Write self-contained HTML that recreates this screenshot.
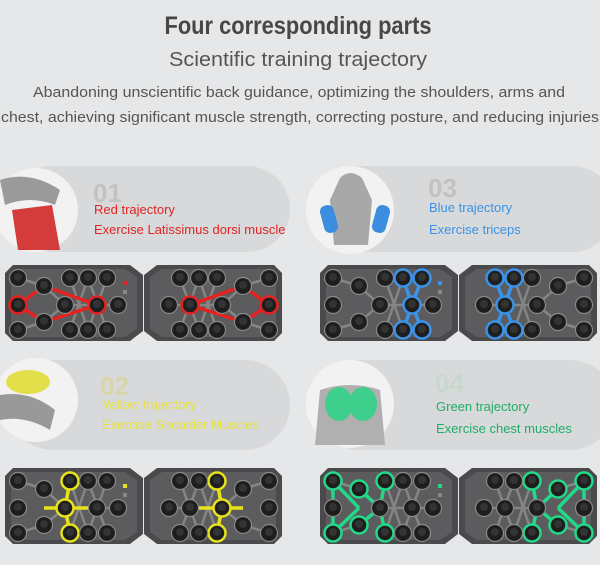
<!DOCTYPE html>
<html><head><meta charset="utf-8"><style>
html,body{margin:0;padding:0;background:#e6e7e8;}
svg{display:block;}
text{font-family:"Liberation Sans",sans-serif;}
</style></head><body>
<svg id="s" width="600" height="565" viewBox="0 0 600 565" xmlns="http://www.w3.org/2000/svg">
<rect width="600" height="565" fill="#e6e7e8"/>
<text x="298" y="34" text-anchor="middle" font-size="25" font-weight="bold" fill="#474747" textLength="267" lengthAdjust="spacingAndGlyphs">Four corresponding parts</text>
<text x="298" y="66" text-anchor="middle" font-size="20" fill="#555" textLength="258" lengthAdjust="spacingAndGlyphs">Scientific training trajectory</text>
<text x="299" y="97" text-anchor="middle" font-size="15" fill="#555" textLength="532" lengthAdjust="spacingAndGlyphs">Abandoning unscientific back guidance, optimizing the shoulders, arms and</text>
<text x="300" y="122" text-anchor="middle" font-size="15" fill="#555" textLength="598" lengthAdjust="spacingAndGlyphs">chest, achieving significant muscle strength, correcting posture, and reducing injuries</text>

<rect x="8" y="166" width="282" height="86" rx="43" fill="#d8d9da"/>
<rect x="315" y="166" width="300" height="86" rx="43" fill="#d8d9da"/>
<rect x="8" y="360" width="282" height="90" rx="45" fill="#d8d9da"/>
<rect x="315" y="360" width="300" height="90" rx="45" fill="#d8d9da"/>

<circle cx="36" cy="210" r="42" fill="#f2f2f2"/>
<path d="M12 210 L52 205 L60 250 L18 250 Z" fill="#d43c3c"/>
<path d="M0 180 Q30 170 60 190 L55 205 Q30 195 5 205 Z" fill="#9a9a9a"/>
<circle cx="350" cy="210" r="44" fill="#f2f2f2"/>
<path d="M340 178 Q350 168 362 178 L372 200 L368 245 L334 245 L330 200 Z" fill="#a8a8a8"/>
<rect x="322" y="205" width="14" height="28" rx="6" fill="#3b8de0" transform="rotate(-15 329 219)"/>
<rect x="374" y="205" width="14" height="28" rx="6" fill="#3b8de0" transform="rotate(15 381 219)"/>
<circle cx="36" cy="400" r="42" fill="#f2f2f2"/>
<ellipse cx="28" cy="382" rx="22" ry="12" fill="#e3df4b"/>
<path d="M0 395 Q30 390 55 410 L50 430 Q25 415 0 420 Z" fill="#999"/>
<circle cx="350" cy="404" r="44" fill="#f2f2f2"/>
<path d="M320 390 Q350 380 380 390 L385 445 L315 445 Z" fill="#b0b0b0"/>
<ellipse cx="339" cy="404" rx="14" ry="17" fill="#3fcf8c"/>
<ellipse cx="363" cy="404" rx="14" ry="17" fill="#3fcf8c"/>

<text x="93" y="202" font-size="26" font-weight="bold" fill="#c2c2c2">01</text>
<text x="94" y="214" font-size="13" fill="#e02424">Red trajectory</text>
<text x="94" y="234" font-size="13" fill="#e02424">Exercise Latissimus dorsi muscle</text>
<text x="428" y="197" font-size="26" font-weight="bold" fill="#c2c2c2">03</text>
<text x="429" y="212" font-size="13" fill="#3a93e8">Blue trajectory</text>
<text x="429" y="234" font-size="13" fill="#3a93e8">Exercise triceps</text>
<text x="100" y="395" font-size="26" font-weight="bold" fill="#d8d6a8">02</text>
<text x="102" y="409" font-size="13" fill="#e8e23a">Yellow trajectory</text>
<text x="102" y="429" font-size="13" fill="#e8e23a">Exercise Shoulder Muscles</text>
<text x="435" y="392" font-size="26" font-weight="bold" fill="#c8d8cc">04</text>
<text x="436" y="411" font-size="13" fill="#1fae66">Green trajectory</text>
<text x="436" y="433" font-size="13" fill="#1fae66">Exercise chest muscles</text>

<g id="boards"></g>
</svg>
<script>
var NS="http://www.w3.org/2000/svg";
var g=document.getElementById("boards");
var holes=[[13,13],[13,40],[13,65],[39,21],[39,57],[65,13],[60,40],[65,65],[83,13],[83,65],[92,40],[102,13],[102,65],[113,40]];
function el(n,a,p){var e=document.createElementNS(NS,n);for(var k in a)e.setAttribute(k,a[k]);(p||g).appendChild(e);return e;}
function board(x0,y0,col,segs,hl){
  var W=277;
  var grp=el("g",{transform:"translate("+x0+","+y0+")"});
  el("path",{d:"M0 8 L8 0 L125 0 L138 10 L138 66 L125 76 L8 76 L0 68 Z",fill:"#4a4a4c"},grp);
  el("path",{d:"M277 8 L269 0 L152 0 L139 10 L139 66 L152 76 L269 76 L277 68 Z",fill:"#4a4a4c"},grp);
  el("path",{d:"M6 10 L12 4 L120 4 L132 12 L132 64 L120 72 L12 72 L6 66 Z",fill:"#5c5c5e"},grp);
  el("path",{d:"M271 10 L265 4 L157 4 L145 12 L145 64 L157 72 L265 72 L271 66 Z",fill:"#5c5c5e"},grp);
  var lat=[[13,13,39,21],[13,65,39,57],[39,21,60,40],[39,57,60,40],[65,13,83,65],[83,13,65,65],[83,13,102,65],[102,13,83,65],[60,40,113,40]];
  lat.forEach(function(s){
    el("line",{x1:s[0],y1:s[1],x2:s[2],y2:s[3],stroke:"#858585","stroke-width":2.5},grp);
    el("line",{x1:W-s[0],y1:s[1],x2:W-s[2],y2:s[3],stroke:"#858585","stroke-width":2.5},grp);
  });
  segs.forEach(function(s){
    el("line",{x1:s[0],y1:s[1],x2:s[2],y2:s[3],stroke:col,"stroke-width":3.5},grp);
    el("line",{x1:W-s[0],y1:s[1],x2:W-s[2],y2:s[3],stroke:col,"stroke-width":3.5},grp);
  });
  holes.forEach(function(h,i){
    [h[0],W-h[0]].forEach(function(x){
      var on=hl.indexOf(i)>=0;
      el("circle",{cx:x,cy:h[1],r:8.5,fill:"#1e1e1e",stroke:on?col:"#8a8a8a","stroke-width":on?2.5:1.2},grp);
      el("circle",{cx:x,cy:h[1]-1,r:4,fill:"#333"},grp);
    });
  });
  el("rect",{x:118,y:16,width:4,height:4,fill:col},grp);
  el("rect",{x:118,y:25,width:4,height:4,fill:"#888"},grp);
}
board(5,265,"#e52222",[[13,40,39,21],[13,40,39,57],[39,21,92,40],[39,57,92,40]],[1,10]);
board(320,265,"#3a93e8",[[83,13,92,40],[102,13,92,40],[92,40,83,65],[92,40,102,65],[83,13,102,13]],[8,11,10,9,12]);
board(5,468,"#e8e21a",[[65,13,60,40],[60,40,65,65],[39,40,92,40]],[5,6,7]);
board(320,468,"#22d98a",[[13,13,13,65],[13,13,39,40],[13,65,39,40],[39,21,60,40],[39,57,60,40],[60,40,65,13],[60,40,65,65]],[0,2,3,4,5,7]);
</script>
</body></html>
